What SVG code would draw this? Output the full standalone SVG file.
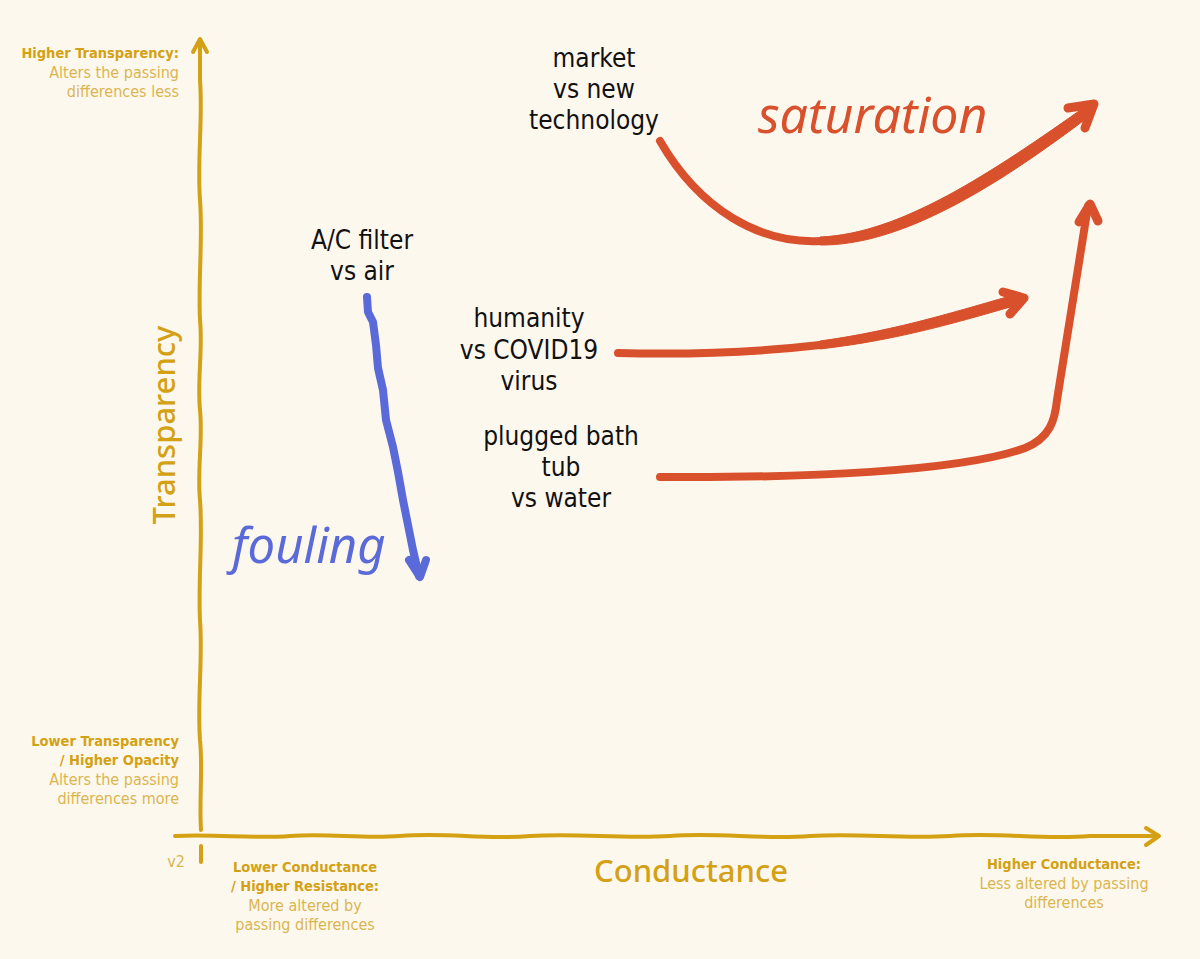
<svg xmlns="http://www.w3.org/2000/svg" width="1200" height="959" viewBox="0 0 1200 959">
<style>
.bg{fill:#fdf8ee}
.axis{fill:none;stroke:#d4a114;stroke-width:4;stroke-linecap:round;stroke-linejoin:round}
.lbl{font-family:"DejaVu Sans Condensed","DejaVu Sans",sans-serif;font-stretch:condensed;font-size:14.5px;font-weight:bold;fill:#d4a114}
.sub{font-family:"DejaVu Sans Condensed","DejaVu Sans",sans-serif;font-stretch:condensed;font-size:16px;fill:#dab54e}
.title{font-family:"Noto Sans","DejaVu Sans",sans-serif;font-size:31px;font-weight:500;fill:#d4a114}
.node{font-family:"DejaVu Sans Condensed","DejaVu Sans",sans-serif;font-stretch:condensed;font-size:26px;fill:#111;text-anchor:middle}
.red{fill:none;stroke:#d8502c;stroke-linecap:round;stroke-linejoin:round}
.redfill{fill:#d8502c;stroke:#d8502c;stroke-width:1;stroke-linejoin:round}
.blue{fill:none;stroke:#5a6ad8;stroke-linecap:round;stroke-linejoin:round}
</style>
<rect class="bg" x="0" y="0" width="1200" height="959"/>
<g id="axes">
<path class="axis" d="M201,830 C199,800 203,770 200,740 C197,700 203,660 200,620 C198,580 203,540 200,500 C197,470 203,440 200,410 C197,380 203,350 200,320 C198,280 203,240 200,200 C197,160 203,120 200,80 L200,40"/>
<path class="axis" d="M193,52 L200,39 L207,52"/>
<path class="axis" d="M201,846 L201,862"/>
<path class="axis" d="M175,836 C220,834 250,839 290,836 C330,833 360,839 400,836 C450,832 480,840 530,836 C580,833 620,839 670,836 C720,832 760,840 810,836 C860,833 900,839 950,836 C1000,832 1040,840 1090,836 L1158,836"/>
<path class="axis" d="M1146,828 L1159,836 L1146,845"/>
<text class="sub" x="176" y="867" text-anchor="middle" font-size="15">v2</text>
</g>
<g id="y-labels">
<text class="lbl" x="179" y="58" text-anchor="end">Higher Transparency:</text>
<text class="sub" x="179" y="78" text-anchor="end">Alters the passing</text>
<text class="sub" x="179" y="97" text-anchor="end">differences less</text>
<text class="lbl" x="179" y="746" text-anchor="end">Lower Transparency</text>
<text class="lbl" x="179" y="765" text-anchor="end">/ Higher Opacity</text>
<text class="sub" x="179" y="785" text-anchor="end">Alters the passing</text>
<text class="sub" x="179" y="804" text-anchor="end">differences more</text>
<text class="title" x="0" y="0" text-anchor="middle" transform="translate(175,425) rotate(-90)">Transparency</text>
</g>
<g id="x-labels">
<text class="lbl" x="305" y="872" text-anchor="middle">Lower Conductance</text>
<text class="lbl" x="305" y="891" text-anchor="middle">/ Higher Resistance:</text>
<text class="sub" x="305" y="911" text-anchor="middle">More altered by</text>
<text class="sub" x="305" y="930" text-anchor="middle">passing differences</text>
<text class="lbl" x="1064" y="869" text-anchor="middle">Higher Conductance:</text>
<text class="sub" x="1064" y="889" text-anchor="middle">Less altered by passing</text>
<text class="sub" x="1064" y="908" text-anchor="middle">differences</text>
<text class="title" x="691" y="882" text-anchor="middle">Conductance</text>
</g>
<g id="connectors">
<path class="red" stroke-width="8" d="M660,141 C700,210 760,244 820,241"/>
<path class="redfill" d="M820,237 C900,234 990,174 1089,104 L1091,115 C995,188 900,246 820,245 Z"/>
<path class="red" stroke-width="9" d="M1068,108 L1094,104 L1085,128"/>
<path class="red" stroke-width="8" d="M618,353 C700,355 760,352 820,345"/>
<path class="redfill" d="M820,341 C900,330 960,310 1021,293 L1024,303 C965,320 900,340 820,349 Z"/>
<path class="red" stroke-width="9" d="M1003,292 L1024,298 L1010,314"/>
<path class="red" stroke-width="8" d="M660,477 C800,478 960,472 1025,448 C1050,438 1055,420 1057,400 L1088,206"/>
<path class="red" stroke-width="9" d="M1079,222 L1090,204 L1098,221"/>
<path class="blue" stroke-width="8" d="M367,297 L368,312 L373,322 L376,345 L378,368 L383,390 L386,420 L393,447 L398,472 L403,500 L408,525 L413,550 L419,576"/>
<path class="blue" stroke-width="8" d="M409,560 L420,577 L426,560"/>
</g>
<g id="node-market">
<text class="node" x="594" y="67">market</text>
<text class="node" x="594" y="98">vs new</text>
<text class="node" x="594" y="129">technology</text>
</g>
<g id="node-saturation">
<text x="758" y="133" font-family="Noto Sans, DejaVu Sans, sans-serif" font-size="50" font-style="italic" fill="#d8502c">saturation</text>
</g>
<g id="node-acfilter">
<text class="node" x="362" y="249">A/C filter</text>
<text class="node" x="362" y="280">vs air</text>
</g>
<g id="node-humanity">
<text class="node" x="529" y="327">humanity</text>
<text class="node" x="529" y="359">vs COVID19</text>
<text class="node" x="529" y="390">virus</text>
</g>
<g id="node-bathtub">
<text class="node" x="561" y="445">plugged bath</text>
<text class="node" x="561" y="476">tub</text>
<text class="node" x="561" y="507">vs water</text>
</g>
<g id="node-fouling">
<text x="232" y="563" font-family="Noto Sans, DejaVu Sans, sans-serif" font-size="49" font-style="italic" fill="#5a6ad8">fouling</text>
</g>
</svg>
